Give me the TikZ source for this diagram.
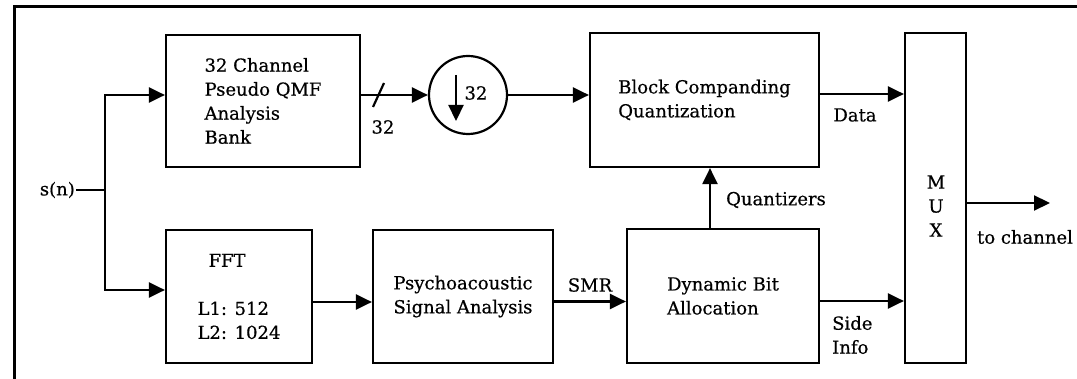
\documentclass[tikz,border=0pt]{standalone}
\usepackage{fontspec}
\setmainfont[FakeBold=0.5]{DejaVu Serif}
\usetikzlibrary{arrows.meta,calc}

\tikzset{
  wire/.style={line width=2.2pt},
  arr/.style={wire,-{Triangle[length=16pt,width=15pt]}},
  blockbox/.style={draw,line width=2.2pt,rectangle,inner sep=0pt,align=left},
  lbl/.style={inner sep=1pt,align=left},
  frameline/.style={line width=3pt}
}

\begin{document}
\begin{tikzpicture}[x=1pt,y=-1pt,font=\fontsize{18}{24}\selectfont]
\useasboundingbox (0,0) rectangle (1077,379);

% outer frame (top and left edges)
\draw[frameline] (14,379) -- (14,7) -- (1077,7);

% processing blocks
\node[blockbox,minimum width=194pt,minimum height=132pt] (qmf) at (263,101)
  {32 Channel\\Pseudo QMF\\Analysis\\Bank};
\node[blockbox,minimum width=146pt,minimum height=133pt] (fft) at (239,296.5)
  {\hspace*{11pt}FFT\\[24pt]L1: 512\\L2: 1024};
\node[blockbox,minimum width=180pt,minimum height=133pt,align=center] (psy) at (463,296.5)
  {Psychoacoustic\\Signal Analysis};
\node[blockbox,minimum width=229pt,minimum height=134pt] (blk) at (704.5,100)
  {Block Companding\\Quantization};
\node[blockbox,minimum width=192pt,minimum height=134pt] (dba) at (723,296)
  {Dynamic Bit\\Allocation};
\node[blockbox,minimum width=61pt,minimum height=330pt] (mux) at (935.5,198) {};
\node[lbl,align=center] (muxtxt) at (936,206) {M\\U\\X};

% decimator
\node[draw,circle,line width=2.2pt,minimum size=78pt,inner sep=0pt] (down) at (468,95) {};
\draw[arr] (456,75) -- (456,121);
\node[lbl] (dfac) at (476,93) {32};

% input and split
\node[lbl,anchor=east] (sn) at (76,190) {s(n)};
\coordinate (split) at (105,190);
\draw[wire] (sn.east) -- (split);
\draw[arr] (split) |- ([yshift=6pt]qmf.west);
\draw[arr] (split) |- ([yshift=6.5pt]fft.west);

% upper path
\draw[arr] ([yshift=6pt]qmf.east) -- (down.west);
\draw[wire] (373,107) -- (384,83);
\node[lbl] (bus) at (383,127) {32};
\draw[arr] (down.east) -- (down.east -| blk.west);
\draw[arr] ([yshift=6pt]blk.east) -- ([yshift=6pt]blk.east -| mux.west);
\node[lbl] (data) at (855,115) {Data};

% lower path
\draw[arr] ([yshift=-5.5pt]fft.east) -- ([yshift=-5.5pt]fft.east -| psy.west);
\draw[arr] ([yshift=-5pt]psy.east) -- ([yshift=-5pt]psy.east -| dba.west);
\node[lbl] (smr) at (590,285) {SMR};
\draw[arr] ([yshift=-5pt]dba.east) -- ([yshift=-5pt]dba.east -| mux.west);
\node[lbl,anchor=west] (side) at (831,335) {Side\\Info};

% quantizer control
\draw[arr] ([xshift=-13pt]dba.north) -- ([xshift=-13pt]dba.north |- blk.south);
\node[lbl] (qz) at (776,200) {Quantizers};

% output
\coordinate (out) at (1050,203);
\draw[arr] (mux.east |- out) -- (out);
\node[lbl] (chan) at (1025,237) {to channel};
\end{tikzpicture}
\end{document}
